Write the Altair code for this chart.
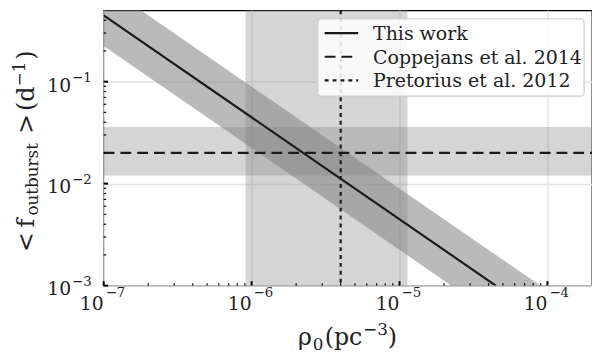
import altair as alt
import pandas as pd

# ---- data ----
# diagonal band ("This work") and its central line
band_rho = [1e-7, 2e-4]
band_lo = [0.2235, 1.12e-4]
band_hi = [0.894, 4.47e-4]
line_rho = [1e-7, 4.47e-5]
line_f = [0.447, 1e-3]
# Coppejans et al. 2014 (horizontal)
cop_f = 0.02
cop_lo, cop_hi = 0.012, 0.036
# Pretorius et al. 2012 (vertical)
pre_rho = 4.0e-6
pre_lo, pre_hi = 9.1e-7, 1.13e-5

x_domain = [1e-7, 2e-4]
y_domain = [1e-3, 0.5]
x_major = [1e-7, 1e-6, 1e-5, 1e-4]
x_exp = ["\u22127", "\u22126", "\u22125", "\u22124"]
y_major = [1e-3, 1e-2, 1e-1]
y_exp = ["\u22123", "\u22122", "\u22121"]
mant = [2, 3, 4, 5, 6, 7, 8, 9]
x_minor = [m * d for d in [1e-7, 1e-6, 1e-5, 1e-4] for m in mant if m * d < 2e-4]
y_minor = [m * d for d in [1e-3, 1e-2, 1e-1] for m in mant if m * d < 0.5]

legend_labels = ["This work", "Coppejans et al. 2014", "Pretorius et al. 2012"]

W, H = 495, 279
FONT = "DejaVu Serif"
GRAY = "#7f7f82"
INK = "#222222"

xs = alt.Scale(type="log", domain=x_domain, nice=False)
ys = alt.Scale(type="log", domain=y_domain, nice=False)
xaxis = alt.Axis(values=x_major, grid=True, labels=False, ticks=False, domain=False,
                 title=None, gridColor="#e4e4e4", gridWidth=1.5)
yaxis = alt.Axis(values=y_major, grid=True, labels=False, ticks=False, domain=False,
                 title=None, gridColor="#e4e4e4", gridWidth=1.5)
X = lambda: alt.X("rho:Q", scale=xs, axis=xaxis)
Y = lambda: alt.Y("f:Q", scale=ys, axis=yaxis)

vband = alt.Chart(pd.DataFrame({"rho": [pre_lo], "rho2": [pre_hi]})).mark_rect(
    color=GRAY, opacity=0.33).encode(x=X(), x2="rho2:Q", y=alt.value(0), y2=alt.value(H))
hband = alt.Chart(pd.DataFrame({"f": [cop_lo], "f2": [cop_hi]})).mark_rect(
    color=GRAY, opacity=0.33).encode(y=Y(), y2="f2:Q", x=alt.value(0), x2=alt.value(W))
dband = alt.Chart(pd.DataFrame({"rho": band_rho, "f": band_lo, "f2": band_hi})).mark_area(
    color=GRAY, opacity=0.54, clip=True).encode(x=X(), y=Y(), y2="f2:Q")
line = alt.Chart(pd.DataFrame({"rho": line_rho, "f": line_f})).mark_line(
    color="#1a1a1a", strokeWidth=2.2, clip=True).encode(x=X(), y=Y())
hline = alt.Chart(pd.DataFrame({"f": [cop_f]})).mark_rule(
    color="#1a1a1a", strokeWidth=2.2, strokeDash=[11, 6]).encode(
    y=Y(), x=alt.value(0), x2=alt.value(W))
vline = alt.Chart(pd.DataFrame({"rho": [pre_rho]})).mark_rule(
    color="#1a1a1a", strokeWidth=2.2, strokeDash=[4, 4]).encode(
    x=X(), y=alt.value(0), y2=alt.value(H))

# ticks (inward)
xmaj = alt.Chart(pd.DataFrame({"rho": x_major})).mark_rule(color="black", strokeWidth=2).encode(
    x=X(), y=alt.value(H), y2=alt.value(H - 4.5))
xmin = alt.Chart(pd.DataFrame({"rho": x_minor})).mark_rule(color="black", strokeWidth=1.2).encode(
    x=X(), y=alt.value(H), y2=alt.value(H - 2.5))
ymaj = alt.Chart(pd.DataFrame({"f": y_major})).mark_rule(color="black", strokeWidth=2).encode(
    y=Y(), x=alt.value(0), x2=alt.value(4.5))
ymin = alt.Chart(pd.DataFrame({"f": y_minor})).mark_rule(color="black", strokeWidth=1.2).encode(
    y=Y(), x=alt.value(0), x2=alt.value(2.5))

# tick labels 10^n
xl_df = pd.DataFrame({"rho": x_major, "base": ["10"] * 4, "exp": x_exp})
xl10 = alt.Chart(xl_df).mark_text(font=FONT, fontSize=19, align="right", baseline="alphabetic",
                                  color=INK).encode(x=X(), y=alt.value(H + 25), text="base:N")
xlex = alt.Chart(xl_df).mark_text(font=FONT, fontSize=13.5, align="left", baseline="alphabetic",
                                  dx=2, color=INK).encode(x=X(), y=alt.value(H + 12), text="exp:N")
yl_df = pd.DataFrame({"f": y_major, "base": ["10"] * 3, "exp": y_exp})
yl10 = alt.Chart(yl_df).mark_text(font=FONT, fontSize=19, align="right", baseline="alphabetic",
                                  dy=10, color=INK).encode(y=Y(), x=alt.value(-33), text="base:N")
ylex = alt.Chart(yl_df).mark_text(font=FONT, fontSize=13.5, align="left", baseline="alphabetic",
                                  dy=0, color=INK).encode(y=Y(), x=alt.value(-32), text="exp:N")

def txt(s, x, y, size, angle=0):
    return alt.Chart(pd.DataFrame({"t": [s]})).mark_text(
        font=FONT, fontSize=size, align="left", baseline="alphabetic", angle=angle,
        color=INK).encode(x=alt.value(x), y=alt.value(y), text="t:N")

# x title: rho_0 (pc^-3)
XB = 339
xtitle = [txt("\u03c1", 197, XB, 24), txt("0", 212, XB + 5, 17),
          txt("(pc", 224, XB, 24), txt("\u22123", 263, XB - 10, 17), txt(")", 288, XB, 24)]
# y title: < f_outburst > (d^-1), rotated
YB = -71
ytitle = [txt("<", YB, 245, 24, 270), txt("f", YB, 220, 24, 270),
          txt("outburst", YB + 4, 208, 17, 270), txt(">", YB, 125, 24, 270),
          txt("(d", YB, 102, 24, 270), txt("\u22121", YB - 9, 77, 17, 270),
          txt(")", YB, 50, 24, 270)]

# legend
lbox = alt.Chart(pd.DataFrame({"a": [0]})).mark_rect(
    fill="white", fillOpacity=0.85, stroke="#cccccc", strokeWidth=1.2, cornerRadius=4).encode(
    x=alt.value(217), x2=alt.value(487), y=alt.value(8.5), y2=alt.value(87))
rows = [23, 47, 71]
dashes = [[1, 0], [11, 6], [4, 4]]
legend = [lbox]
for r, d, lab in zip(rows, dashes, legend_labels):
    legend.append(alt.Chart(pd.DataFrame({"a": [0]})).mark_rule(
        color="#1a1a1a", strokeWidth=2.2, strokeDash=d).encode(
        x=alt.value(224), x2=alt.value(258), y=alt.value(r)))
    legend.append(alt.Chart(pd.DataFrame({"t": [lab]})).mark_text(
        font=FONT, fontSize=19.2, align="left", baseline="middle", color=INK).encode(
        x=alt.value(273), y=alt.value(r + 1), text="t:N"))

chart = alt.layer(
    vband, hband, dband, line, hline, vline, xmaj, xmin, ymaj, ymin,
    xl10, xlex, yl10, ylex, *xtitle, *ytitle, *legend
).properties(
    width=W, height=H,
    autosize=alt.AutoSizeParams(type="none"),
    padding={"left": 97, "top": 0, "right": 0, "bottom": 72},
).configure_view(stroke="black", strokeWidth=1.3)

chart.save("out.html", embed_options={"renderer": "svg", "actions": False})
